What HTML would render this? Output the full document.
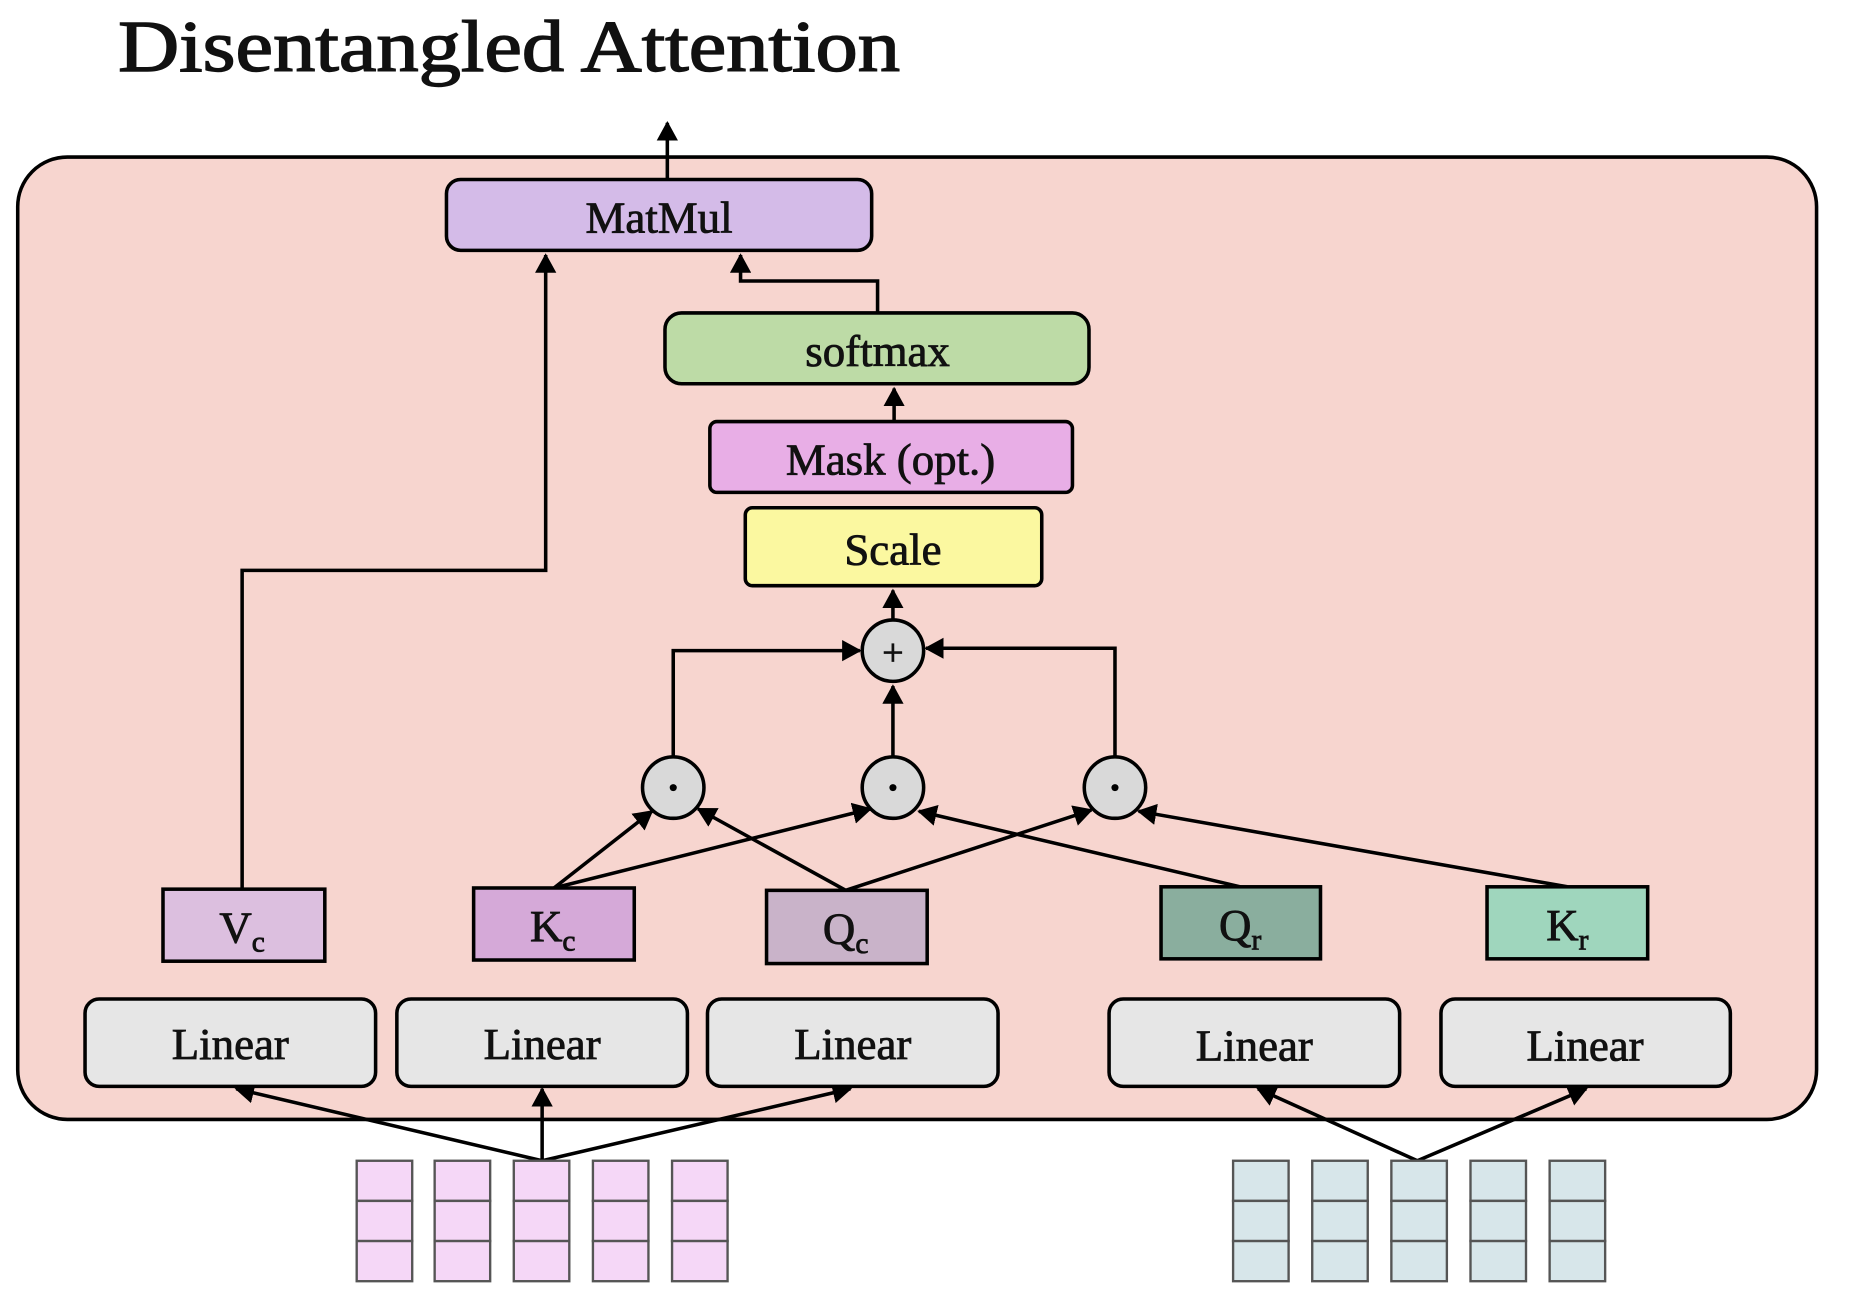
<!DOCTYPE html>
<html><head><meta charset="utf-8"><style>html,body{margin:0;padding:0;background:#fff}svg{display:block}</style></head>
<body>
<svg width="1852" height="1306" viewBox="0 0 1568 1106" preserveAspectRatio="none" xmlns="http://www.w3.org/2000/svg" font-family="Liberation Serif, serif">
<defs>
<marker id="a" markerWidth="6" markerHeight="6" refX="5" refY="3" orient="auto" markerUnits="strokeWidth"><path d="M0,0 L5.5,3 L0,6 Z" fill="#000"/></marker>
</defs>
<text x="100" y="60" font-size="62" fill="#111" stroke="#111" stroke-width="1.2" textLength="662" lengthAdjust="spacingAndGlyphs">Disentangled Attention</text>
<rect x="15" y="133" width="1523" height="815" rx="42" fill="#f7d5cf" stroke="#000" stroke-width="3"/>
<g stroke="#000" stroke-width="3" fill="none" marker-end="url(#a)">
<path d="M565,152 L565,104"/>
<path d="M205,753 L205,483 L462,483 L462,216"/>
<path d="M743,265 L743,238 L627,238 L627,216"/>
<path d="M757,357 L757,329"/>
<path d="M756,525 L756,500"/>
<path d="M469,752 L552,687"/>
<path d="M469,752 L737,685"/>
<path d="M716,754 L591,685"/>
<path d="M716,754 L924,686"/>
<path d="M1050,751 L778,687"/>
<path d="M1327,751 L964,687"/>
<path d="M570,641 L570,551 L728,551"/>
<path d="M756,641 L756,581"/>
<path d="M944,641 L944,549 L784,549"/>
<path d="M459,983 L200,922"/>
<path d="M459,983 L459,922"/>
<path d="M459,983 L720,922"/>
<path d="M1200,983 L1065,922"/>
<path d="M1200,983 L1343,922"/>
</g>
<g stroke="#000" stroke-width="3">
<rect x="378" y="152" width="360" height="60" rx="12" fill="#d4bbe8"/>
<rect x="563" y="265" width="359" height="60" rx="14" fill="#bddba6"/>
<rect x="601" y="357" width="307" height="60" rx="6" fill="#e8aee6"/>
<rect x="631" y="430" width="251" height="66" rx="6" fill="#fbf8a0"/>
<circle cx="756" cy="551" r="26" fill="#d9d9d9"/>
<circle cx="570" cy="667" r="26" fill="#d9d9d9"/>
<circle cx="756" cy="667" r="26" fill="#d9d9d9"/>
<circle cx="944" cy="667" r="26" fill="#d9d9d9"/>
<rect x="138" y="753" width="137" height="61" fill="#dcbfdf"/>
<rect x="401" y="752" width="136" height="61" fill="#d5a9d8"/>
<rect x="649" y="754" width="136" height="62" fill="#c9b3c9"/>
<rect x="983" y="751" width="135" height="61" fill="#8aae9e"/>
<rect x="1259" y="751" width="136" height="61" fill="#9fd6bd"/>
<rect x="72" y="846" width="246" height="74" rx="12" fill="#e6e6e6"/>
<rect x="336" y="846" width="246" height="74" rx="12" fill="#e6e6e6"/>
<rect x="599" y="846" width="246" height="74" rx="12" fill="#e6e6e6"/>
<rect x="939" y="846" width="246" height="74" rx="12" fill="#e6e6e6"/>
<rect x="1220" y="846" width="245" height="74" rx="12" fill="#e6e6e6"/>
</g>
<g fill="#000"><circle cx="570" cy="667" r="3"/><circle cx="756" cy="667" r="3"/><circle cx="944" cy="667" r="3"/></g>
<g font-size="38" text-anchor="middle" fill="#111" stroke="#111" stroke-width="0.7">
<text x="558" y="197">MatMul</text>
<text x="743" y="310">softmax</text>
<text x="754" y="402">Mask (opt.)</text>
<text x="756" y="478">Scale</text>
<text x="756" y="563" font-size="32">+</text>
<text x="205" y="798">V<tspan font-size="25" dy="8">c</tspan></text>
<text x="468" y="797">K<tspan font-size="25" dy="8">c</tspan></text>
<text x="716" y="799">Q<tspan font-size="25" dy="8">c</tspan></text>
<text x="1050" y="796">Q<tspan font-size="25" dy="8">r</tspan></text>
<text x="1327" y="796">K<tspan font-size="25" dy="8">r</tspan></text>
<text x="195" y="897">Linear</text>
<text x="459" y="897">Linear</text>
<text x="722" y="897">Linear</text>
<text x="1062" y="898">Linear</text>
<text x="1342" y="898">Linear</text>
</g>
<g stroke="#555" stroke-width="2" fill="#f5d7f7">
<rect x="302" y="983" width="47" height="34"/><rect x="302" y="1017" width="47" height="34"/><rect x="302" y="1051" width="47" height="34"/>
<rect x="368" y="983" width="47" height="34"/><rect x="368" y="1017" width="47" height="34"/><rect x="368" y="1051" width="47" height="34"/>
<rect x="435" y="983" width="47" height="34"/><rect x="435" y="1017" width="47" height="34"/><rect x="435" y="1051" width="47" height="34"/>
<rect x="502" y="983" width="47" height="34"/><rect x="502" y="1017" width="47" height="34"/><rect x="502" y="1051" width="47" height="34"/>
<rect x="569" y="983" width="47" height="34"/><rect x="569" y="1017" width="47" height="34"/><rect x="569" y="1051" width="47" height="34"/>
</g>
<g stroke="#555" stroke-width="2" fill="#d7e6ea">
<rect x="1044" y="983" width="47" height="34"/><rect x="1044" y="1017" width="47" height="34"/><rect x="1044" y="1051" width="47" height="34"/>
<rect x="1111" y="983" width="47" height="34"/><rect x="1111" y="1017" width="47" height="34"/><rect x="1111" y="1051" width="47" height="34"/>
<rect x="1178" y="983" width="47" height="34"/><rect x="1178" y="1017" width="47" height="34"/><rect x="1178" y="1051" width="47" height="34"/>
<rect x="1245" y="983" width="47" height="34"/><rect x="1245" y="1017" width="47" height="34"/><rect x="1245" y="1051" width="47" height="34"/>
<rect x="1312" y="983" width="47" height="34"/><rect x="1312" y="1017" width="47" height="34"/><rect x="1312" y="1051" width="47" height="34"/>
</g>
</svg>
</body></html>
